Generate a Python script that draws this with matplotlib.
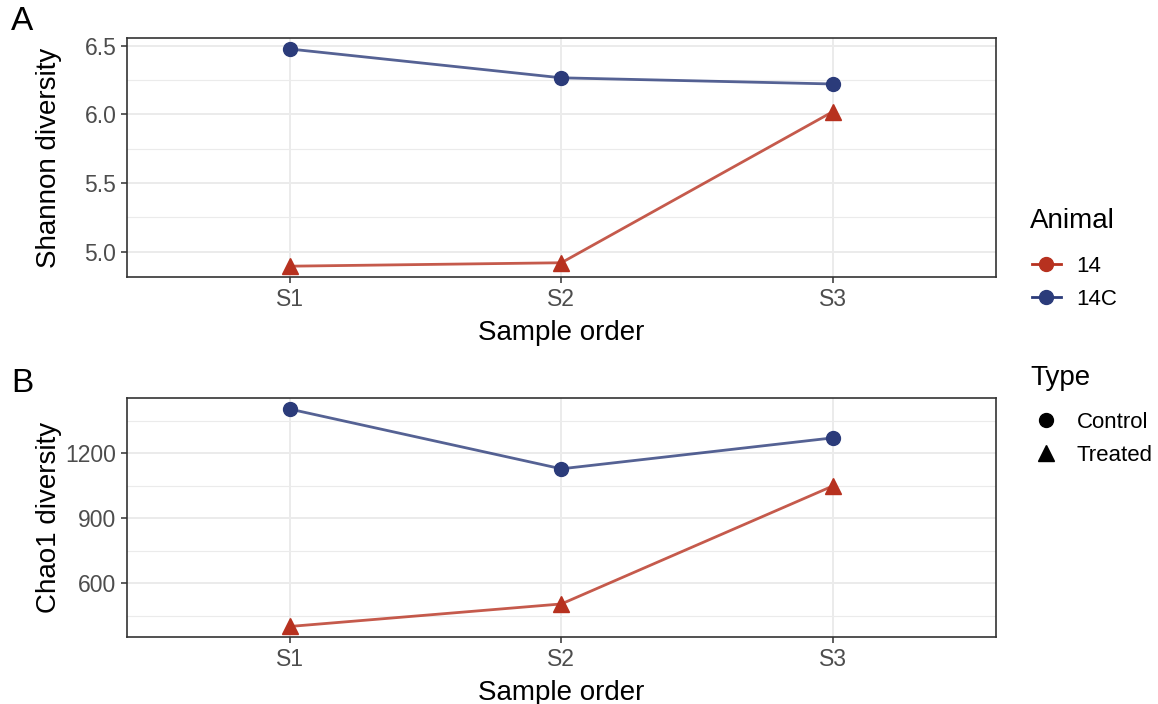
import matplotlib
matplotlib.use("Agg")
import matplotlib.pyplot as plt
from matplotlib.lines import Line2D

plt.rcParams['font.family'] = ['Liberation Sans', 'DejaVu Sans']

# Dane
samples = ["S1", "S2", "S3"]
animals = ["14", "14C"]
types = {"14": "Treated", "14C": "Control"}
shannon = {"14": [4.893, 4.918, 6.02], "14C": [6.476, 6.266, 6.221]}
chao1 = {"14": [400, 504, 1049], "14C": [1404, 1128, 1271]}

colors = {"14": "#B7311F", "14C": "#2B3B7A"}
markers = {"Control": "o", "Treated": "^"}
msizes = {"Control": 10, "Treated": 12}

fig = plt.figure(figsize=(11.58, 7.04), dpi=100)
W, H = 1158, 704
LEFT, RIGHT = 126.7, 996


def make_axes(top, bottom):
    return fig.add_axes([LEFT / W, 1 - bottom / H, (RIGHT - LEFT) / W, (bottom - top) / H])


def panel(ax, data, ylabel, major, minor):
    xs = list(range(1, len(samples) + 1))
    for a in animals:
        ax.plot(xs, data[a], color=colors[a], lw=2, alpha=0.8, zorder=3)
        t = types[a]
        ax.plot(xs, data[a], ls="none", marker=markers[t], ms=msizes[t],
                color=colors[a], mec=colors[a], zorder=4)
    ax.set_xlim(0.4, 3.6)
    ax.set_xticks(xs)
    ax.set_xticklabels(samples)
    ax.set_yticks(major)
    ax.set_yticks(minor, minor=True)
    ax.grid(True, which="major", color="#EBEBEB", lw=1.4, zorder=0)
    ax.grid(True, which="minor", axis="y", color="#EBEBEB", lw=0.8, zorder=0)
    ax.set_axisbelow(True)
    for s in ax.spines.values():
        s.set_color("#333333")
        s.set_linewidth(1.2)
    ax.tick_params(which="major", length=4, width=1.1, color="#333333",
                   labelsize=16.5, labelcolor="#4D4D4D", pad=3.5)
    ax.tick_params(which="minor", length=0)
    ax.set_xlabel("Sample order", fontsize=20, labelpad=6.5)
    ax.set_ylabel(ylabel, fontsize=20, va="center")
    # wyrównanie etykiet osi Y w obu panelach
    ax.yaxis.set_label_coords((49 - LEFT) / (RIGHT - LEFT), 0.5)


axA = make_axes(38.3, 277.3)
panel(axA, shannon, "Shannon diversity", [5.0, 5.5, 6.0, 6.5], [5.25, 5.75, 6.25])
axA.set_ylim(4.812, 6.554)
axA.yaxis.set_major_formatter(matplotlib.ticker.FormatStrFormatter("%.1f"))

axB = make_axes(398, 637.3)
panel(axB, chao1, "Chao1 diversity", [600, 900, 1200], [450, 750, 1050, 1350])
axB.set_ylim(350, 1455)

fig.text(11 / W, 1 - 22 / H, "A", fontsize=24, va="center", ha="left")
fig.text(11 / W, 1 - 383 / H, "B", fontsize=24, va="center", ha="left")

# Legendy (tytuły jako osobne teksty)
fig.text(1030 / W, 1 - 221 / H, "Animal", fontsize=20, va="center", ha="left")
fig.text(1030 / W, 1 - 378 / H, "Type", fontsize=20, va="center", ha="left")

h_animal = [Line2D([], [], color=colors[a], lw=2, marker="o", ms=10, alpha=1) for a in animals]
fig.legend(h_animal, animals, loc="upper left",
           bbox_to_anchor=(1012 / W, 1 - 236 / H), frameon=False,
           fontsize=16, handlelength=1.3, handletextpad=0.7, labelspacing=0.55)
h_type = [Line2D([], [], ls="none", color="black", marker=markers[t], ms=msizes[t])
          for t in ["Control", "Treated"]]
fig.legend(h_type, ["Control", "Treated"], loc="upper left",
           bbox_to_anchor=(1012 / W, 1 - 392 / H), frameon=False,
           fontsize=16, handlelength=1.3, handletextpad=0.7, labelspacing=0.55)

fig.savefig("out.png", dpi=100)
